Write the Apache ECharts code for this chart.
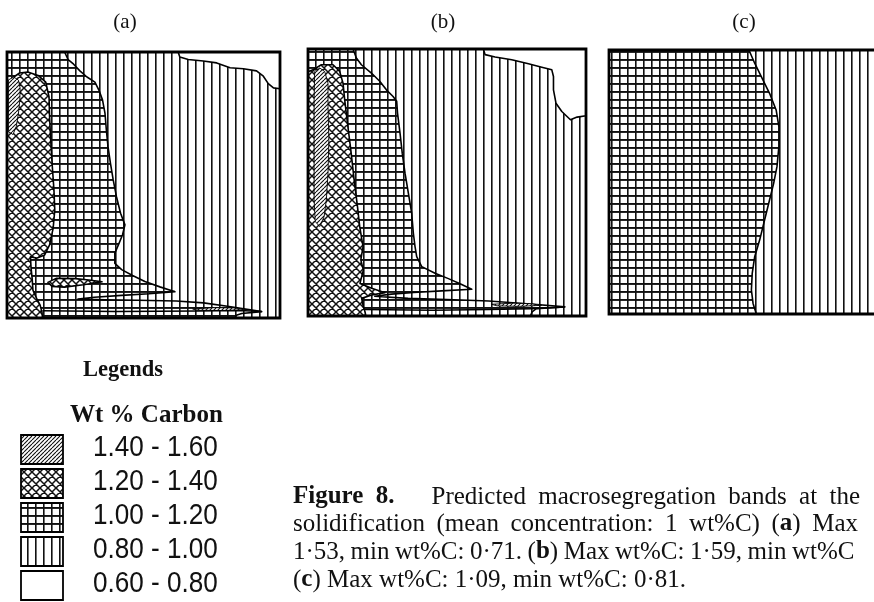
<!DOCTYPE html>
<html>
<head>
<meta charset="utf-8">
<script src="https://cdn.jsdelivr.net/npm/echarts@6/dist/echarts.min.js"></script>
<style>
  html, body { margin: 0; background: #fff; }
  #chart { width: 874px; height: 602px; }
</style>
</head>
<body>
<div id="chart"></div>
<script>
// ---- data: band outlines per panel, in % of the ingot section (x right, y down) ----
const panelLabels = ['(a)', '(b)', '(c)'];
const legendTitle = 'Legends';
const legendUnit = 'Wt % Carbon';
const legendRanges = ['1.40 - 1.60', '1.20 - 1.40', '1.00 - 1.20', '0.80 - 1.00', '0.60 - 0.80'];
const legendFills = ['diag', 'cross', 'grid', 'vert', 'white'];

const wholeSection = [[0, 0], [100, 0], [100, 100], [0, 100]];

const aWhite = [[62.7, 0], [63.3, 1.9], [66.4, 2.8], [71.9, 3.4], [76.8, 4.1], [81.7, 5.9], [86.6, 6.3],
  [91.4, 7.1], [93.9, 9.1], [95.7, 11.9], [97.6, 13.5], [100, 13.8], [100, 0]];
const aGrid = [[0, 0], [21.1, 0], [22.4, 2.9], [24.4, 4.6], [26.7, 7.1], [29.3, 9.4], [32.2, 11.3], [33.7, 14.4],
  [35.0, 18.1], [35.9, 23.1], [36.4, 29.4], [37.0, 35.6], [37.9, 41.9], [38.9, 48.1], [40.1, 54.4], [41.6, 60.6],
  [43.2, 65], [42.3, 68.8], [40.8, 72.5], [39.5, 75.6], [39.5, 79.5], [42, 81.8], [46, 84], [50.5, 86.3],
  [56, 88.3], [61.5, 90.1], [52, 90.9], [42, 91.5], [32, 92.2], [26, 92.9], [36, 93.2], [48, 93.3], [62, 93.6],
  [72, 94.3], [82, 95.8], [93.3, 97.6], [86, 98.3], [84, 99], [83.5, 100], [0, 100]];
const aCross = [[2.5, 9.4], [4.6, 7.9], [7.6, 7.5], [11.4, 8.8], [14.2, 11.3], [15.4, 16.9], [15.6, 24.4],
  [16.0, 33.1], [16.6, 43.1], [17.2, 51.9], [17.5, 59.4], [16.9, 66.3], [15.6, 72.5], [13.8, 76.3], [10.8, 77.5],
  [8.6, 77], [8.8, 81], [9.2, 85], [9.5, 89.5], [11, 93], [12.1, 95.1], [12.8, 97.7], [13, 100], [0, 100],
  [0, 22], [1.2, 19], [1.5, 12]];
const aCrossTongue = [[15, 86.6], [18, 85.1], [25, 85.2], [30, 85.7], [34.8, 86.4], [28, 87.5], [21, 88.4], [16.5, 88.1]];
const aDiag = [[0.5, 10.5], [2.5, 9.4], [4.2, 10.6], [4.8, 13.5], [4.7, 18], [4.2, 23], [3.4, 28], [2.2, 31], [0.5, 30]];
const aSliver = [[68, 96.6], [76, 96.1], [83, 96.2], [88, 96.9], [80, 97.2], [70, 97.1]];
const aSkin = [[13, 97.3], [40, 97.6], [70, 97.4], [85, 97.2], [93.3, 97.6]];

const bWhite = [[63.1, 0], [63.7, 2.1], [67.3, 3], [73.3, 4], [79.3, 5.5], [84.1, 6.8], [87.7, 7.8], [88.3, 10.3],
  [88.3, 15.3], [89.2, 20.3], [91.3, 23.4], [94.4, 26.5], [96.8, 25.5], [100, 25], [100, 0]];
const bGrid = [[0, 0], [16.2, 0], [17.4, 3.4], [19.2, 5.9], [22.8, 9], [25.8, 12.1], [28.2, 15.3], [30.6, 17.8],
  [31.9, 19.6], [32.2, 24], [33.1, 31.5], [33.9, 39], [34.9, 46.5], [36.1, 54], [37.3, 61.5], [37.9, 69],
  [38.5, 74], [39.1, 77.8], [40.9, 81.5], [45.7, 84], [50.5, 86], [54.7, 87.9], [58.9, 90], [48, 90.6],
  [38, 91.2], [30, 91.8], [24, 92.6], [36, 93.4], [50, 93.8], [65, 94.4], [80, 95.5], [92.4, 96.6], [82, 97.3],
  [80.6, 98.5], [80, 100], [0, 100]];
const bCross = [[0, 8.5], [1.8, 7.8], [4.8, 5.9], [9.0, 5.9], [11.4, 8.4], [12.6, 12.8], [13.2, 19], [14.2, 27.8],
  [15.4, 37.8], [16.6, 49], [17.8, 59], [18.6, 66.5], [19.8, 74], [19.0, 79], [19.9, 82.8], [18.7, 87.8],
  [22.9, 89.6], [27.7, 91.3], [22.9, 92.1], [19.3, 93.4], [19.9, 96.5], [20.5, 98.4], [20.8, 100], [0, 100]];
const bDiag = [[2.4, 8.4], [4.2, 7.1], [6.0, 8.4], [7.2, 12.8], [7.2, 21.5], [7.5, 34], [7.2, 46.5], [6.6, 56.5],
  [5.8, 62.8], [4.2, 66.5], [2.6, 64.6], [2.2, 56.5], [2.2, 44], [2.2, 31.5], [2.2, 19]];
const bSliver = [[66, 95.6], [74, 95.2], [80, 95.4], [84, 96], [76, 96.4], [68, 96.2]];
const bSkin = [[20.5, 97.6], [45, 97.8], [65, 97.6], [80, 97.3], [92.4, 96.6]];

const cGrid = [[0, 0], [50.9, 0], [53, 5], [55.4, 10.1], [58.4, 16.4], [60.8, 22.7], [61.8, 29], [61.8, 36.6],
  [61.1, 44.2], [59.9, 50.5], [58.4, 56.8], [56.6, 64.4], [54.8, 72], [53, 78.3], [52.1, 84.6], [51.8, 90.9],
  [52.4, 96], [53.6, 100], [0, 100]];

const captionLines = [
  '*Figure* *8.*   Predicted macrosegregation bands at the',
  'solidification (mean concentration: 1 wt%C) (*a*) Max',
  '1·53, min wt%C: 0·71. (*b*) Max wt%C: 1·59, min wt%C',
  '(*c*) Max wt%C: 1·09, min wt%C: 0·81.'
];

// ---- band layers, drawn bottom to top ----
const panels = [
  [['vert', wholeSection], ['white', aWhite], ['grid', aGrid], ['cross', aCross], ['cross', aCrossTongue],
   ['diag', aDiag], ['diag', aSliver], ['line', aSkin], ['frame', wholeSection]],
  [['vert', wholeSection], ['white', bWhite], ['grid', bGrid], ['cross', bCross], ['diag', bDiag],
   ['diag', bSliver], ['line', bSkin], ['frame', wholeSection]],
  [['vert', wholeSection], ['grid', cGrid], ['frame', wholeSection]]
];

// ---- hatch tiles ----
function hatch(kind) {
  const c = document.createElement('canvas');
  const t = kind === 'diag' ? 4 : 8;
  c.width = t; c.height = t;
  const g = c.getContext('2d');
  g.fillStyle = '#fff';
  g.fillRect(0, 0, t, t);
  g.fillStyle = '#111';
  g.strokeStyle = '#111';
  if (kind === 'vert') {
    g.fillRect(3, 0, 1.6, t);
  } else if (kind === 'grid') {
    g.fillRect(3, 0, 1.6, t);
    g.fillRect(0, 3, t, 1.9);
  } else if (kind === 'cross' || kind === 'diag') {
    g.lineWidth = kind === 'cross' ? 1.5 : 1.1;
    g.beginPath();
    for (let k = -1; k <= 2; k++) {
      g.moveTo(k * t, 0); g.lineTo(k * t - t, t);
      if (kind === 'cross') { g.moveTo(k * t, 0); g.lineTo(k * t + t, t); }
    }
    g.stroke();
  }
  return { image: c, repeat: 'repeat' };
}
const fills = {
  vert: hatch('vert'), grid: hatch('grid'), cross: hatch('cross'), diag: hatch('diag'), white: '#fff'
};

function panelSeries(i) {
  const layers = panels[i];
  return {
    type: 'custom',
    coordinateSystem: 'cartesian2d',
    xAxisIndex: i,
    yAxisIndex: i,
    silent: true,
    animation: false,
    clip: false,
    data: layers.map(() => [50, 50]),
    renderItem: (params, api) => {
      const [kind, pts] = layers[params.dataIndex];
      const points = pts.map((p) => api.coord(p));
      if (kind === 'line') {
        return { type: 'polyline', shape: { points }, style: { fill: null, stroke: '#000', lineWidth: 1.5 } };
      }
      if (kind === 'frame') {
        return { type: 'polygon', shape: { points }, style: { fill: null, stroke: '#000', lineWidth: 2.8 } };
      }
      return {
        type: 'polygon',
        shape: { points },
        style: {
          fill: fills[kind],
          stroke: kind === 'vert' ? null : '#000',
          lineWidth: kind === 'diag' ? 0.9 : 1.6,
          lineJoin: 'round'
        }
      };
    }
  };
}

// ---- caption set justified like the printed page ----
const meas = document.createElement('canvas').getContext('2d');
const serif = '"Liberation Serif", "Times New Roman", serif';
function pieces(word) {
  const out = [];
  let bold = false;
  word.split('*').forEach((t, i) => {
    if (i > 0) bold = !bold;
    if (t) out.push({ t, b: bold });
  });
  return out;
}
function widthOf(p) {
  meas.font = (p.b ? 'bold ' : '') + '25px ' + serif;
  return meas.measureText(p.t).width;
}
const captionFit = [{ end: 860 }, { end: 858 }, { lastStart: 792 }, null];
const captionX = 293;
const captionY = [497, 524, 552, 580];

function captionElements() {
  const els = [];
  meas.font = '25px ' + serif;
  const space = meas.measureText(' ').width;
  captionLines.forEach((line, li) => {
    const words = [];
    let weight = 0;
    line.split(' ').forEach((tok) => {
      if (!tok) { weight += 1; return; }
      const ps = pieces(tok);
      words.push({ ps, w: ps.reduce((s, p) => s + widthOf(p), 0), gap: words.length ? weight + 1 : 0 });
      weight = 0;
    });
    const totalW = words.reduce((s, w) => s + w.gap, 0);
    let extra = 0;
    const fit = captionFit[li];
    if (fit) {
      const natural = words.reduce((s, w) => s + w.w + w.gap * space, 0);
      const target = fit.end ? fit.end - captionX : fit.lastStart - captionX + words[words.length - 1].w;
      extra = (target - natural) / totalW;
    }
    let x = captionX;
    words.forEach((w) => {
      x += w.gap * (space + extra);
      let px = x;
      w.ps.forEach((p) => {
        els.push({
          type: 'text', x: px, y: captionY[li], silent: true,
          style: { text: p.t, font: (p.b ? 'bold ' : '') + '25px ' + serif, fill: '#111',
            align: 'left', verticalAlign: 'middle', textAlign: 'left', textVerticalAlign: 'middle' }
        });
        px += widthOf(p);
      });
      x += w.w;
    });
  });
  return els;
}

// ---- legend ----
function legendElements() {
  const els = [
    { type: 'text', x: 83, y: 370, silent: true,
      style: { text: legendTitle, font: 'bold 22.5px ' + serif, fill: '#111', align: 'left', verticalAlign: 'middle',
        textAlign: 'left', textVerticalAlign: 'middle' } },
    { type: 'text', x: 70, y: 416, silent: true,
      style: { text: legendUnit, font: 'bold 25px ' + serif, fill: '#111', align: 'left', verticalAlign: 'middle',
        textAlign: 'left', textVerticalAlign: 'middle' } }
  ];
  legendRanges.forEach((r, i) => {
    const top = 435 + i * 34;
    els.push({
      type: 'rect', silent: true,
      shape: { x: 21, y: top, width: 42, height: 29 },
      style: { fill: fills[legendFills[i]], stroke: '#000', lineWidth: 1.8 }
    });
    els.push({
      type: 'text', x: 93, y: top + 13, scaleX: 0.9, silent: true,
      style: { text: r, font: '29px "Liberation Sans", Arial, sans-serif', fill: '#111', align: 'left',
        verticalAlign: 'middle', textAlign: 'left', textVerticalAlign: 'middle' }
    });
  });
  return els;
}

// panel (c) is cropped by the page edge: only ~96% of its width shows
const panelBoxes = [
  { left: 7, top: 52, width: 273, height: 266 },
  { left: 308, top: 49, width: 278, height: 267 },
  { left: 609, top: 50, width: 265, height: 264 }
];
const panelXMax = [100, 100, 96.4];
const labelX = [125, 443, 744];

const chart = echarts.init(document.getElementById('chart'), null, { renderer: 'canvas' });
chart.setOption({
  backgroundColor: '#fff',
  animation: false,
  grid: panelBoxes.map((b) => ({ ...b, containLabel: false })),
  xAxis: panelBoxes.map((b, i) => ({ gridIndex: i, type: 'value', min: 0, max: panelXMax[i], show: false })),
  yAxis: panelBoxes.map((b, i) => ({ gridIndex: i, type: 'value', min: 0, max: 100, inverse: true, show: false })),
  series: panels.map((p, i) => panelSeries(i)),
  graphic: [
    ...panelLabels.map((t, i) => ({
      type: 'text', x: labelX[i], y: 22, silent: true,
      style: { text: t, font: '21px ' + serif, fill: '#111', align: 'center', verticalAlign: 'middle',
        textAlign: 'center', textVerticalAlign: 'middle' }
    })),
    ...legendElements(),
    ...captionElements()
  ]
});
</script>
</body>
</html>
